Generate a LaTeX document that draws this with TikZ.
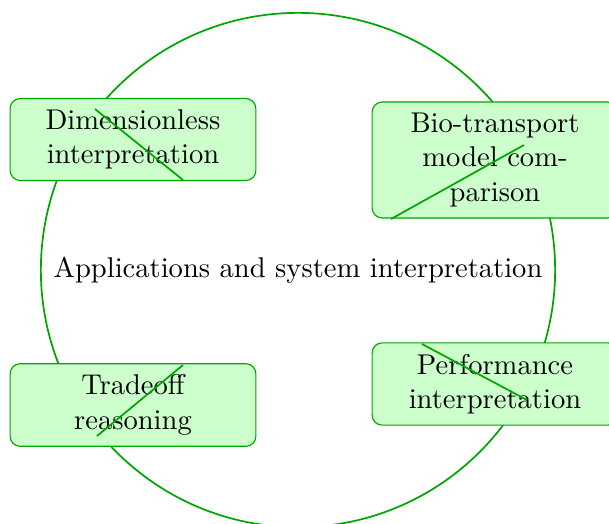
\documentclass[tikz,border=0pt]{standalone}
\usepackage{tikz}
\def\gline{\draw[green!65!black,semithick]}

\begin{document}
\begin{tikzpicture}[x=0.35pt,y=-0.35pt,
    hub/.style={circle,draw=green!65!black,semithick,minimum size=180pt,inner sep=0pt},
    leaf/.style={rectangle,rounded corners=3.5pt,draw=green!65!black,fill=green!20,
      align=center,minimum width=86pt,inner ysep=3.9pt}]
    \useasboundingbox (0,0) rectangle (609,524);
    \node[hub] (apps) at (298,270) {Applications and system interpretation};
    \node[leaf] (dimless) at (133,139.5) {Dimensionless\\interpretation};
    \node[leaf] (biomodel) at (495,160) {Bio-transport\\model com-\\parison};
    \node[leaf] (tradeoff) at (133,405) {Tradeoff\\reasoning};
    \node[leaf] (perform) at (495,384) {Performance\\interpretation};
    \coordinate (dimlessA) at (95,109);    \coordinate (dimlessB) at (183,180);
    \coordinate (biomodelA) at (391,219);  \coordinate (biomodelB) at (524,145);
    \coordinate (tradeoffA) at (97,436);   \coordinate (tradeoffB) at (183,365);
    \coordinate (performA) at (422,344);   \coordinate (performB) at (527,400);
    \gline (dimlessA) -- (dimlessB);
    \gline (biomodelA) -- (biomodelB);
    \gline (tradeoffA) -- (tradeoffB);
    \gline (performA) -- (performB);
\end{tikzpicture}
\end{document}
